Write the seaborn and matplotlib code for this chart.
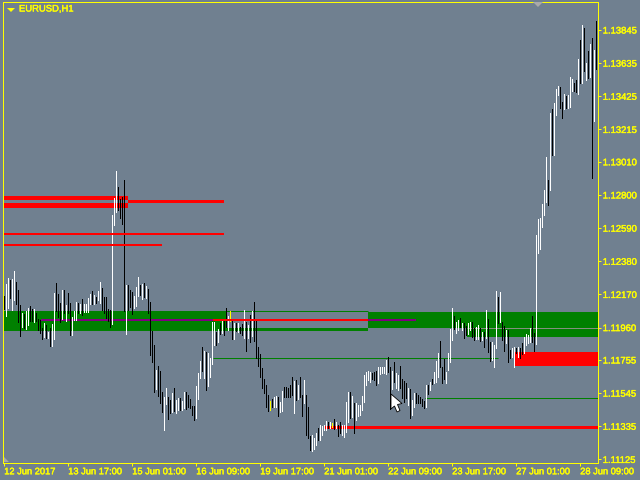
import matplotlib
matplotlib.use('Agg')
import matplotlib.pyplot as plt
import matplotlib.patheffects as pe
from matplotlib.patches import Polygon
from matplotlib.transforms import IdentityTransform
import pandas as pd
import seaborn as sns

# prices of each H1 bar
bar_high = [
    1.12160, 1.12236, 1.12274, 1.12261, 1.12268, 1.12319, 1.12248, 1.12198, 1.12103, 1.12053,
    1.12046, 1.12065, 1.12084, 1.12097, 1.12078, 1.12078, 1.12053, 1.12014, 1.12008, 1.11958,
    1.11989, 1.11976, 1.11932, 1.11958, 1.11983, 1.12179, 1.12242, 1.12173, 1.12116, 1.12198,
    1.12198, 1.12103, 1.12179, 1.12116, 1.12027, 1.12065, 1.12122, 1.12116, 1.12110, 1.12141,
    1.12110, 1.12110, 1.12147, 1.12173, 1.12192, 1.12166, 1.12154, 1.12192, 1.12248, 1.12211,
    1.12154, 1.12154, 1.12078, 1.12071, 1.12673, 1.12781, 1.12952, 1.12850, 1.12774, 1.12787,
    1.12895, 1.12230, 1.12230, 1.12198, 1.12186, 1.12160, 1.12217, 1.12281, 1.12230, 1.12236,
    1.12242, 1.12224, 1.12205, 1.12122, 1.11939, 1.11850, 1.11691, 1.11717, 1.11685, 1.11552,
    1.11520, 1.11577, 1.11520, 1.11501, 1.11546, 1.11577, 1.11501, 1.11514, 1.11514, 1.11495,
    1.11552, 1.11552, 1.11533, 1.11508, 1.11463, 1.11463, 1.11590, 1.11672, 1.11748, 1.11837,
    1.11812, 1.11805, 1.11799, 1.11767, 1.11995, 1.11995, 1.11932, 1.11951, 1.11989, 1.12008,
    1.12014, 1.12084, 1.12033, 1.12065, 1.12014, 1.11989, 1.11989, 1.11989, 1.11964, 1.11983,
    1.12071, 1.11995, 1.11976, 1.12040, 1.12065, 1.12122, 1.12008, 1.11837, 1.11793, 1.11704,
    1.11634, 1.11596, 1.11533, 1.11495, 1.11508, 1.11520, 1.11527, 1.11520, 1.11489, 1.11558,
    1.11584, 1.11584, 1.11577, 1.11596, 1.11647, 1.11622, 1.11628, 1.11596, 1.11647, 1.11533,
    1.11628, 1.11533, 1.11457, 1.11273, 1.11280, 1.11260, 1.11292, 1.11324, 1.11343, 1.11336,
    1.11343, 1.11368, 1.11362, 1.11362, 1.11355, 1.11381, 1.11362, 1.11343, 1.11362, 1.11343,
    1.11343, 1.11489, 1.11552, 1.11552, 1.11527, 1.11482, 1.11482, 1.11470, 1.11470, 1.11527,
    1.11660, 1.11678, 1.11685, 1.11678, 1.11672, 1.11678, 1.11685, 1.11710, 1.11710, 1.11710,
    1.11710, 1.11755, 1.11774, 1.11710, 1.11685, 1.11742, 1.11672, 1.11660, 1.11717, 1.11634,
    1.11622, 1.11609, 1.11577, 1.11571, 1.11501, 1.11546, 1.11546, 1.11533, 1.11520, 1.11508,
    1.11495, 1.11596, 1.11596, 1.11615, 1.11634, 1.11678, 1.11748, 1.11799, 1.11875, 1.11710,
    1.11761, 1.11678, 1.11799, 1.11951, 1.12084, 1.12033, 1.11995, 1.12008, 1.12021, 1.11989,
    1.11989, 1.11970, 1.11989, 1.11995, 1.11995, 1.11958, 1.11964, 1.11976, 1.11958, 1.11932,
    1.11932, 1.12071, 1.12014, 1.11869, 1.11869, 1.11850, 1.12192, 1.12154, 1.12186, 1.11995,
    1.11970, 1.11945, 1.11945, 1.11818, 1.11831, 1.11837, 1.11831, 1.11837, 1.11831, 1.11862,
    1.11900, 1.11920, 1.11913, 1.11958, 1.12033, 1.11926, 1.12546, 1.12648, 1.12654, 1.12743,
    1.12831, 1.13040, 1.12895, 1.13319, 1.13344, 1.13382, 1.13471, 1.13490, 1.13484, 1.13389,
    1.13439, 1.13427, 1.13433, 1.13547, 1.13534, 1.13509, 1.13528, 1.13661, 1.13781, 1.13876,
    1.13857, 1.13636, 1.13712, 1.13756, 1.13794, 1.13718, 1.13902,
]
bar_low = [
    1.12078, 1.12033, 1.12084, 1.12147, 1.12071, 1.12135, 1.12110, 1.11995, 1.11907, 1.11964,
    1.11958, 1.11951, 1.11976, 1.12002, 1.12002, 1.11995, 1.12002, 1.11945, 1.11926, 1.11888,
    1.11900, 1.11894, 1.11894, 1.11843, 1.11843, 1.11888, 1.12065, 1.12027, 1.11995, 1.12014,
    1.12053, 1.12002, 1.12053, 1.11913, 1.11913, 1.12008, 1.12008, 1.12053, 1.12053, 1.12040,
    1.12059, 1.12059, 1.12059, 1.12110, 1.12110, 1.12110, 1.12116, 1.12135, 1.12116, 1.12071,
    1.12053, 1.12021, 1.12002, 1.11964, 1.11983, 1.12610, 1.12692, 1.12705, 1.12654, 1.12616,
    1.12065, 1.11920, 1.12071, 1.12090, 1.12046, 1.12084, 1.12097, 1.12160, 1.12166, 1.12141,
    1.12154, 1.12147, 1.12053, 1.11786, 1.11742, 1.11552, 1.11571, 1.11527, 1.11482, 1.11425,
    1.11311, 1.11476, 1.11381, 1.11419, 1.11425, 1.11432, 1.11419, 1.11438, 1.11438, 1.11438,
    1.11450, 1.11444, 1.11457, 1.11450, 1.11406, 1.11375, 1.11387, 1.11508, 1.11640, 1.11685,
    1.11640, 1.11565, 1.11590, 1.11647, 1.11729, 1.11850, 1.11850, 1.11869, 1.11920, 1.11926,
    1.11913, 1.11964, 1.11945, 1.12002, 1.11888, 1.11888, 1.11939, 1.11932, 1.11926, 1.11913,
    1.11894, 1.11812, 1.11894, 1.11869, 1.11907, 1.11875, 1.11767, 1.11717, 1.11647, 1.11577,
    1.11546, 1.11457, 1.11432, 1.11438, 1.11457, 1.11457, 1.11457, 1.11400, 1.11425, 1.11432,
    1.11520, 1.11520, 1.11520, 1.11520, 1.11533, 1.11419, 1.11501, 1.11508, 1.11520, 1.11400,
    1.11482, 1.11280, 1.11260, 1.11185, 1.11178, 1.11191, 1.11216, 1.11248, 1.11248, 1.11280,
    1.11311, 1.11311, 1.11324, 1.11324, 1.11330, 1.11318, 1.11324, 1.11273, 1.11292, 1.11280,
    1.11267, 1.11299, 1.11362, 1.11387, 1.11394, 1.11292, 1.11375, 1.11400, 1.11406, 1.11438,
    1.11489, 1.11596, 1.11628, 1.11615, 1.11634, 1.11628, 1.11596, 1.11609, 1.11666, 1.11672,
    1.11672, 1.11666, 1.11678, 1.11444, 1.11571, 1.11615, 1.11577, 1.11565, 1.11577, 1.11514,
    1.11489, 1.11514, 1.11470, 1.11387, 1.11406, 1.11457, 1.11482, 1.11482, 1.11482, 1.11463,
    1.11450, 1.11457, 1.11539, 1.11565, 1.11603, 1.11609, 1.11615, 1.11647, 1.11710, 1.11609,
    1.11634, 1.11609, 1.11691, 1.11742, 1.11881, 1.11951, 1.11926, 1.11945, 1.11964, 1.11945,
    1.11894, 1.11913, 1.11920, 1.11945, 1.11900, 1.11881, 1.11888, 1.11888, 1.11875, 1.11881,
    1.11837, 1.11894, 1.11805, 1.11748, 1.11755, 1.11710, 1.11831, 1.11989, 1.11995, 1.11881,
    1.11812, 1.11862, 1.11742, 1.11767, 1.11774, 1.11710, 1.11799, 1.11774, 1.11767, 1.11793,
    1.11799, 1.11850, 1.11862, 1.11869, 1.11869, 1.11812, 1.11856, 1.12432, 1.12458, 1.12597,
    1.12673, 1.12755, 1.12736, 1.12831, 1.13053, 1.13053, 1.13306, 1.13433, 1.13351, 1.13287,
    1.13344, 1.13351, 1.13351, 1.13357, 1.13458, 1.13458, 1.13452, 1.13439, 1.13509, 1.13509,
    1.13585, 1.13528, 1.13541, 1.13547, 1.12908, 1.13268, 1.13598,
]
# w = up bar, b = down bar, y = doji
bar_kind = list(
    "bwwbwwbbbw" "bwwbbwbbbb" "wbwbwwbbbw" "bwbbwwwbwb" "wwwwbwbwwb"
    "bbbbwwwbbb" "bwbbbwwwbw" "bwbbbbwbbb" "wwbbwbwwbw" "wbbbbbwwwb"
    "wbwwwwbwbw" "bbwybwbwbb" "wbwbwbbbbb" "bbbybwwbww" "bbbbbwbwbb"
    "wbbbwwwbww" "wwbwybwbbw" "wwwbwbwwww" "wwwwbbbwww" "wwbbwbwwbb"
    "bbwbwwbbbb" "bwbwbwwwbb" "bwwwwbwwbw" "bbwwbbwwbw" "bwbbwwwbwb"
    "bwbbwwbwbb" "wwwwbbwwww" "wwbwbwwwbb" "wbwwwbbwbw" "bwbwbwb"
)

zone_start = [0, 111, 182, 231.5, 0, 0, 62, 255.5, 160.5]
zone_end = [111, 182, 231.5, 297, 62, 62, 110, 297, 297]
zone_top = [1.12065, 1.11958, 1.12059, 1.12059, 1.12794, 1.12749, 1.12768, 1.11805, 1.11336]
zone_bottom = [1.11939, 1.11939, 1.11958, 1.11900, 1.12768, 1.12717, 1.12749, 1.11717, 1.11317]
zone_color = ['green'] * 4 + ['red'] * 5

purple_start = [18.5, 182]
purple_end = [104.5, 206]
purple_price = [1.12008, 1.12008]
red_start = [104.5, 0, 0]
red_end = [182, 110, 79]
red_price = [1.12008, 1.12552, 1.12483]
green_start = [111, 104.5, 210.5]
green_end = [182, 247, 297]
green_price = [1.12062, 1.11767, 1.11514]

y_ticks = [1.13845, 1.13635, 1.13425, 1.13215, 1.13010, 1.12800, 1.12590,
           1.12380, 1.12170, 1.11960, 1.11755, 1.11545, 1.11335, 1.11125]
x_labels = ['12 Jun 2017', '13 Jun 17:00', '15 Jun 01:00', '16 Jun 09:00', '19 Jun 17:00',
            '21 Jun 01:00', '22 Jun 09:00', '23 Jun 17:00', '27 Jun 01:00', '28 Jun 09:00']

sns.set_theme(style='ticks', rc={'axes.facecolor': '#708090', 'figure.facecolor': '#708090'})
plt.rcParams['font.family'] = ['Liberation Sans', 'DejaVu Sans']

n = len(bar_high)
bars = pd.DataFrame({
    'bar': list(range(n)) * 2,
    'price': bar_high + bar_low,
    'kind': bar_kind * 2,
})

fig = plt.figure(figsize=(6.4, 4.8), dpi=100)
ax = fig.add_axes([3 / 640, 1 - 462.8 / 480, 595 / 640, 461 / 480])

for x0, x1, top, bottom, color in zip(zone_start, zone_end, zone_top, zone_bottom, zone_color):
    ax.fill_between([x0, x1], bottom, top, color=color, linewidth=0, antialiased=False, zorder=1)
ax.hlines(purple_price, purple_start, purple_end, color='purple', linewidth=1.44, zorder=2)
ax.hlines(green_price, green_start, green_end, color='green', linewidth=0.72, zorder=2)
ax.hlines(1.11960, 231.5, 297, color='#84907f', linewidth=0.72, zorder=2)

sns.lineplot(data=bars, x='bar', y='price', hue='kind', units='bar', estimator=None,
             palette={'w': 'white', 'b': 'black', 'y': 'yellow'}, sort=False, legend=False,
             linewidth=0.72, antialiased=False, solid_capstyle='butt', zorder=3, ax=ax)

ax.hlines(red_price, red_start, red_end, color='red', linewidth=1.44, zorder=4)

# 2 px per bar, first bar on pixel column 4
ax.set_xlim(-0.6, 296.9)
ax.set_ylim(1.111036, 1.140234)
ax.set_xlabel('')
ax.set_ylabel('')

ax.yaxis.tick_right()
ax.set_yticks(y_ticks, [f'{v:.5f}' for v in y_ticks])
ax.set_xticks([32 * i for i in range(len(x_labels))], x_labels, ha='left')
ax.tick_params(axis='y', colors='yellow', length=2.2, width=0.72, pad=1.2, labelsize=6.8)
ax.tick_params(axis='x', colors='yellow', length=2, width=0.72, pad=1.2, labelsize=6.7)
for side in ax.spines.values():
    side.set_color('yellow')
    side.set_linewidth(0.72)
    side.set_visible(True)

# chart furniture, placed in pixels from the top left
def pixel_patch(points, **kw):
    xy = [(px, 480 - py) for px, py in points]
    fig.add_artist(Polygon(xy, closed=True, transform=IdentityTransform(), **kw))

pixel_patch([(7, 8), (15, 8), (11, 12)], facecolor='yellow', edgecolor='none')
pixel_patch([(533, 2), (543, 2), (538, 7)], facecolor='#a9a9a9', edgecolor='none')
pixel_patch([(4, 457), (9, 462), (4, 462)], facecolor='#a9a9a9', edgecolor='none')
pixel_patch([(391, 394), (391, 409), (394.5, 406), (397, 412), (400, 410.5), (397.5, 404.5), (402, 403.5)],
            facecolor='white', edgecolor='black', linewidth=0.6, zorder=6)
title = fig.text(19 / 640, 1 - 9 / 480, 'EURUSD,H1', color='yellow', fontsize=6.8, ha='left', va='center')

# the terminal's bitmap font is heavier than the antialiased text
heavier = [pe.withStroke(linewidth=0.3, foreground='yellow')]
for label in ax.get_xticklabels() + ax.get_yticklabels() + [title]:
    label.set_path_effects(heavier)

fig.savefig('out.png', dpi=100)
